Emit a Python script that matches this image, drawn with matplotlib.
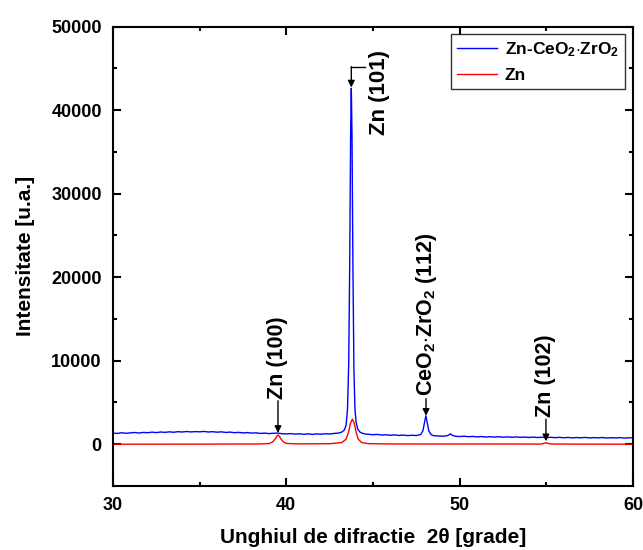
import matplotlib.pyplot as plt
import matplotlib as mpl
import numpy as np

mpl.rcParams['font.family'] = ['Liberation Sans', 'DejaVu Sans']
mpl.rcParams['font.weight'] = 'bold'
mpl.rcParams['mathtext.fontset'] = 'custom'
mpl.rcParams['mathtext.rm'] = 'Liberation Sans:bold'
mpl.rcParams['mathtext.bf'] = 'Liberation Sans:bold'
mpl.rcParams['mathtext.default'] = 'bf'

# Zn-CeO2·ZrO2 (albastru)
blue_2theta = [30.0, 30.25, 30.5, 30.75, 31.0, 31.25, 31.5, 31.75, 32.0, 32.25, 32.5, 32.75,
               33.0, 33.25, 33.5, 33.75, 34.0, 34.25, 34.5, 34.75, 35.0, 35.25, 35.5, 35.75,
               36.0, 36.25, 36.5, 36.75, 37.0, 37.25, 37.5, 37.75, 38.0, 38.25, 38.5, 38.75,
               39.0, 39.25, 39.5, 39.75, 40.0, 40.25, 40.5, 40.75, 41.0, 41.25, 41.5, 41.75,
               42.0, 42.25, 42.5, 42.75, 43.0, 43.2, 43.35, 43.45, 43.53, 43.6, 43.66, 43.71,
               43.75, 43.79, 43.84, 43.9, 43.96, 44.03, 44.12, 44.25, 44.4, 44.55, 44.75, 45.0,
               45.25, 45.5, 45.75, 46.0, 46.25, 46.5, 46.75, 47.0, 47.25, 47.5, 47.75, 47.88,
               47.98, 48.05, 48.12, 48.22, 48.35, 48.5, 48.75, 49.0, 49.25, 49.38, 49.47, 49.56,
               49.75, 50.0, 50.25, 50.5, 50.75, 51.0, 51.25, 51.5, 51.75, 52.0, 52.25, 52.5,
               52.75, 53.0, 53.25, 53.5, 53.75, 54.0, 54.25, 54.5, 54.75, 55.0, 55.25, 55.5,
               55.75, 56.0, 56.25, 56.5, 56.75, 57.0, 57.25, 57.5, 57.75, 58.0, 58.25, 58.5,
               58.75, 59.0, 59.25, 59.5, 59.75, 60.0]
blue_int = [1330, 1290, 1370, 1310, 1360, 1400, 1340, 1410, 1380, 1440, 1390, 1460,
            1420, 1480, 1430, 1500, 1460, 1520, 1470, 1510, 1480, 1530, 1460, 1500,
            1440, 1480, 1410, 1450, 1380, 1420, 1350, 1390, 1330, 1360, 1290, 1330,
            1270, 1310, 1330, 1260, 1230, 1270, 1210, 1250, 1190, 1240, 1180, 1230,
            1200, 1250, 1220, 1290, 1330, 1450, 1700, 2300, 4200, 9500, 22000, 37000,
            42600, 37000, 22000, 9000, 4200, 2600, 1800, 1450, 1300, 1220, 1180, 1140,
            1170, 1100, 1130, 1070, 1110, 1050, 1090, 1030, 1070, 1040, 1150, 1600,
            2700, 3400, 2700, 1600, 1150, 1020, 990, 960, 1000, 1100, 1250, 1080,
            950, 920, 960, 900, 930, 880, 920, 860, 900, 850, 890, 840,
            880, 830, 870, 820, 860, 810, 850, 800, 840, 790, 830, 780,
            820, 770, 810, 760, 800, 770, 810, 750, 790, 760, 800, 740,
            780, 750, 790, 730, 770, 760]

# Zn (rosu)
red_2theta = [30.0, 35.0, 38.5, 39.0, 39.2, 39.35, 39.45, 39.52, 39.6, 39.7, 39.85, 40.0,
              40.5, 42.5, 43.2, 43.45, 43.6, 43.7, 43.81, 43.92, 44.02, 44.15, 44.35, 44.7,
              46.0, 54.7, 54.9, 54.98, 55.06, 55.25, 60.0]
red_int = [0, 10, 30, 80, 250, 600, 950, 1100, 950, 600, 250, 100,
           40, 60, 200, 600, 1500, 2500, 3000, 2500, 1500, 600, 200, 70,
           30, 20, 120, 180, 120, 20, 0]

peak_labels = ['Zn (100)', 'Zn (101)', r'CeO$_2$$\cdot$ZrO$_2$ (112)', 'Zn (102)']
peak_pos = [39.52, 43.75, 48.06, 54.98]
label_bottom = [5450, 37000, 5800, 3200]
arrow_start = [5200, 45200, 5450, 3000]
arrow_tip = [1350, 42700, 3400, 350]

fig = plt.figure(figsize=(6.43, 5.5), dpi=100)
ax = fig.add_axes([0.1757, 0.1164, 0.8087, 0.8354])

ax.plot(blue_2theta, blue_int, color='#0000ff', lw=1.0, label=r'Zn-CeO$_2$$\cdot$ZrO$_2$')
ax.plot(red_2theta, red_int, color='#ff0000', lw=1.0, label='Zn')

for i, lab in enumerate(peak_labels):
    xt = peak_pos[i]
    if i == 1:
        # eticheta Zn (101) e mutata la dreapta, sageata in cot
        ax.text(45.4, label_bottom[i], lab, rotation=90, ha='center', va='bottom',
                fontsize=16, fontweight='bold')
        ax.plot([44.55, xt], [arrow_start[i], arrow_start[i]], color='k', lw=1)
    else:
        ax.text(xt, label_bottom[i], lab, rotation=90, ha='center', va='bottom',
                fontsize=15.5, fontweight='bold')
    ax.annotate('', xy=(xt, arrow_tip[i]), xytext=(xt, arrow_start[i]),
                arrowprops=dict(arrowstyle='-|>', color='k', lw=1,
                                mutation_scale=10, shrinkA=0, shrinkB=0))

ax.set_xlim(30, 60)
ax.set_ylim(-5000, 50000)
ax.set_xticks([30, 40, 50, 60])
ax.set_xticks([35, 45, 55], minor=True)
ax.set_yticks(np.arange(0, 50001, 10000))
ax.set_yticks(np.arange(5000, 50000, 10000), minor=True)
ax.tick_params(which='both', direction='in', top=True, right=True, width=1.5,
               labelsize=13, pad=8)
ax.tick_params(which='major', length=6)
ax.tick_params(which='minor', length=3)
for lbl in ax.get_xticklabels() + ax.get_yticklabels():
    lbl.set_fontweight('bold')
for s in ax.spines.values():
    s.set_linewidth(1.5)

ax.set_xlabel('Unghiul de difractie  2θ [grade]', fontsize=15, fontweight='bold', labelpad=10)
ax.set_ylabel('Intensitate [u.a.]', fontsize=15, fontweight='bold', labelpad=12)

leg = ax.legend(loc='upper right', bbox_to_anchor=(0.985, 0.984), borderaxespad=0,
                fontsize=12.5, frameon=True, fancybox=False, edgecolor='k',
                handlelength=2.3, handletextpad=0.45, borderpad=0.35, labelspacing=0.55)
leg.get_frame().set_linewidth(1.0)

fig.savefig('out.png', dpi=100)
